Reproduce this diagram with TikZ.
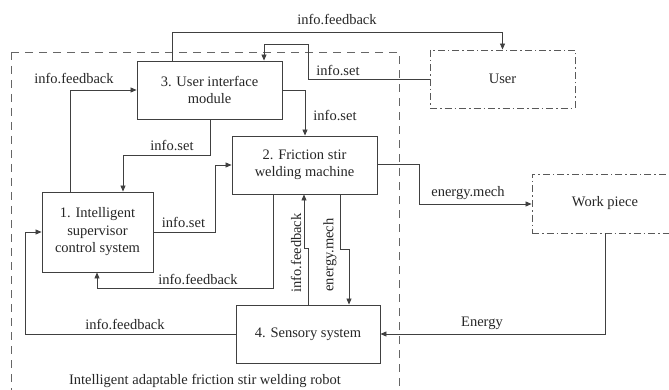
\documentclass[tikz,border=0pt]{standalone}
\usepackage{fontspec}
\setmainfont{Liberation Serif}
\usetikzlibrary{arrows.meta}
\begin{document}
\begin{tikzpicture}[x=1pt,y=-1pt,
  every node/.style={font=\fontsize{14.5}{17.5}\selectfont, text=black!85},
  blk/.style={draw=black!75, line width=0.9pt, align=center, inner sep=0pt},
  ext/.style={draw=black!65, line width=0.9pt, dash pattern=on 7pt off 3pt on 1.5pt off 3pt, align=center, inner sep=0pt},
  arr/.style={draw=black!75, line width=0.8pt, -{Triangle[length=6pt,width=5pt]}},
  lbl/.style={inner sep=1pt}]
\useasboundingbox (0,0) rectangle (669,390);
\clip (0,0) rectangle (669,390);
% outer dashed boundary
\draw[black!60, line width=0.9pt, dash pattern=on 8pt off 6pt] (11,52) rectangle (399,410);
\node[lbl] (title) at (205,381) {Intelligent adaptable friction stir welding robot};
% blocks
\node[blk, minimum width=145pt, minimum height=58pt] (b3) at (209.5,90) {3. User interface\\module};
\node[blk, minimum width=145pt, minimum height=58pt] (b2) at (304.5,165) {2. Friction stir\\welding machine};
\node[blk, minimum width=111pt, minimum height=80pt] (b1) at (97.5,232) {1. Intelligent\\supervisor\\control system};
\node[blk, minimum width=144pt, minimum height=58pt] (b4) at (308,334) {4. Sensory system};
\node[ext, minimum width=145pt, minimum height=58pt] (user) at (502.5,79) {User};
\node[ext, minimum width=146pt, minimum height=59pt] (wp) at (605,203.5) {Work piece};
% connectors
\draw[arr] (172,0 |- b3.north) -- (172,32) -- (502.5,32) -- (user.north);
\draw[arr] (user.west) -- (308,79) -- (308,44) -- (264,44) -- (264,0 |- b3.north);
\draw[arr] (b3.east) -- (305,90) -- (305,0 |- b2.north);
\draw[arr] (210,0 |- b3.south) -- (210,155) -- (123,155) -- (123,0 |- b1.north);
\draw[arr] (70,0 |- b1.north) -- (70,90) -- (b3.west);
\draw[arr] (b1.east) -- (215,232) -- (215,165) -- (b2.west);
\draw[arr] (273,0 |- b2.south) -- (273,288) -- (97,288) -- (97,0 |- b1.south);
\draw[arr] (308,0 |- b4.north) -- (308,248) -- (304,248) -- (304,0 |- b2.south);
\draw[arr] (340,0 |- b2.south) -- (340,249) -- (349,249) -- (349,0 |- b4.north);
\draw[arr] (b2.east |- 0,164) -- (419,164) -- (419,204) -- (wp.west |- 0,204);
\draw[arr] (605,0 |- wp.south) -- (605,334) -- (b4.east);
\draw[arr] (b4.west) -- (25,334) -- (25,232) -- (b1.west);
% labels
\node[lbl] (l1) at (337,20) {info.feedback};
\node[lbl] (l2) at (338,70) {info.set};
\node[lbl] (l3) at (74,79) {info.feedback};
\node[lbl] (l4) at (335,115) {info.set};
\node[lbl] (l5) at (172,145) {info.set};
\node[lbl] (l6) at (183.5,222) {info.set};
\node[lbl] (l7) at (198,279) {info.feedback};
\node[lbl, rotate=90] (l8) at (296,253) {info.feedback};
\node[lbl, rotate=90] (l9) at (330,255) {energy.mech};
\node[lbl] (l10) at (468,193) {energy.mech};
\node[lbl] (l11) at (482,323) {Energy};
\node[lbl] (l12) at (125,324) {info.feedback};
\end{tikzpicture}
\end{document}
